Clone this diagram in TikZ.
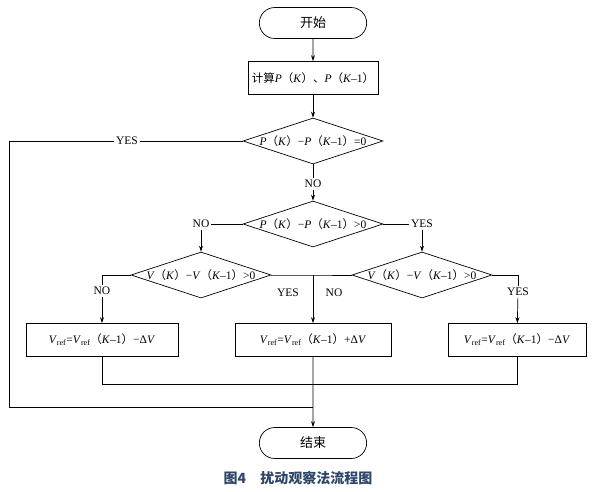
\documentclass[tikz,border=0pt]{standalone}
\usepackage{fontspec}
\setmainfont{Liberation Serif}
\newfontfamily\cjk{Noto Sans CJK SC}
\usetikzlibrary{shapes.geometric,shapes.misc,arrows.meta}
\definecolor{capblue}{RGB}{45,70,105}
\newcommand{\lp}{{\cjk （}}
\newcommand{\rp}{{\cjk ）}}
\newcommand{\vref}{\textit{V}\textsubscript{ref}}
\begin{document}
\begin{tikzpicture}[x=1pt,y=-1pt,line width=0.7pt,
	every node/.style={font=\fontsize{11.5}{13}\selectfont},
	term/.style={rounded rectangle,draw,minimum width=114pt,minimum height=31pt,font=\fontsize{13}{15}\selectfont\cjk},
	proc/.style={rectangle,draw,minimum height=33pt,inner sep=2pt},
	decide/.style={diamond,draw,minimum width=140pt,minimum height=46pt,inner sep=0pt},
	lbl/.style={inner sep=1.5pt},
	flow/.style={-{Stealth[length=6pt,width=4pt]}}]
	\useasboundingbox (0,0) rectangle (593,491);
	% main column
	\node[term] (start) at (313,23) {开始};
	\node[proc,minimum width=130pt] (calc) at (313,78)
	{{\cjk 计算}\textit{P}\lp\textit{K}\rp{\cjk 、}\textit{P}\lp\textit{K}–1\rp};
	\node[decide,label=center:{\textit{P}\lp\textit{K}\rp−\textit{P}\lp\textit{K}–1\rp=0}] (d1) at (313,141) {};
	\node[lbl] (no1) at (313,184) {NO};
	\node[decide,label=center:{\textit{P}\lp\textit{K}\rp−\textit{P}\lp\textit{K}–1\rp>0}] (d2) at (313,224) {};
	\node[lbl] (no2) at (201,224) {NO};
	\node[lbl] (yes2) at (422,224) {YES};
	% second level
	\node[decide,label=center:{\textit{V}\lp\textit{K}\rp−\textit{V}\lp\textit{K}–1\rp>0}] (d3) at (201,275) {};
	\node[decide,label=center:{\textit{V}\lp\textit{K}\rp−\textit{V}\lp\textit{K}–1\rp>0}] (d4) at (422,275) {};
	\node[lbl] (no3) at (102,291) {NO};
	\node[lbl] (yes4) at (518,292) {YES};
	\node[lbl] (yes3) at (288,293) {YES};
	\node[lbl] (no4) at (334,293) {NO};
	\coordinate (mid) at (313,275);
	% updates
	\node[proc,minimum width=152pt] (b1) at (102,340) {\vref=\vref\lp\textit{K}–1\rp−Δ\textit{V}};
	\node[proc,minimum width=156pt] (b2) at (313,340) {\vref=\vref\lp\textit{K}–1\rp+Δ\textit{V}};
	\node[proc,minimum width=138pt] (b3) at (517,340) {\vref=\vref\lp\textit{K}–1\rp−Δ\textit{V}};
	\coordinate (jl) at (102,384);
	\coordinate (jr) at (517,384);
	% yes loop
	\node[lbl] (yes1) at (127,141) {YES};
	\coordinate (lp1) at (9.5,141);
	\coordinate (lp2) at (9.5,407);
	\coordinate (lp3) at (313,407);
	\node[term] (stop) at (313,443) {结束};
	\node[text=capblue,font=\fontsize{14}{16}\selectfont\cjk\bfseries] (cap) at (298,478) {图4\quad 扰动观察法流程图};
	% connectors
	\draw[flow] (start) -- (calc);
	\draw[flow] (calc) -- (d1);
	\draw (d1) -- (no1);
	\draw[flow] (no1) -- (d2);
	\draw (d2) -- (no2);
	\draw[flow] (no2) -- (d3);
	\draw (d2) -- (yes2);
	\draw[flow] (yes2) -- (d4);
	\draw (d3.west) -| (no3);
	\draw[flow] (no3) -- (b1);
	\draw (d3.east) -- (mid) -- (d4.west);
	\draw[flow] (mid) -- (b2);
	\draw (d4.east) -| (yes4);
	\draw[flow] (yes4) -- (b3);
	\draw (b1) -- (jl) -- (jr) -- (b3);
	\draw (d1) -- (yes1);
	\draw (yes1) -- (lp1) -- (lp2) -- (lp3);
	\draw[flow] (b2) -- (stop);
\end{tikzpicture}
\end{document}
